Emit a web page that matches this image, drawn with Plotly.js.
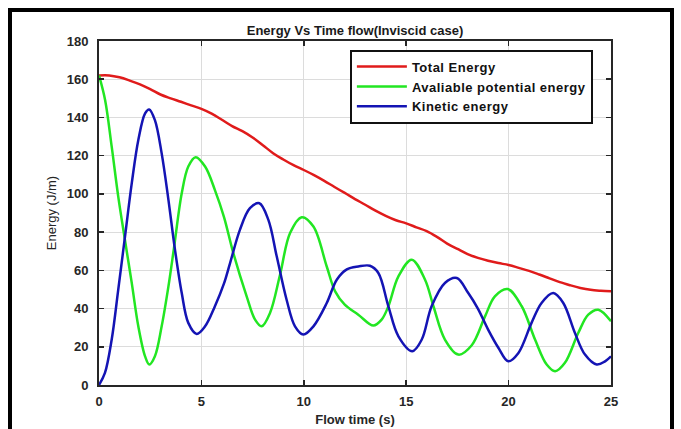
<!DOCTYPE html>
<html>
<head>
<meta charset="utf-8">
<script src="https://cdn.plot.ly/plotly-3.0.1.min.js"></script>
<style>
  html, body { margin: 0; padding: 0; background: #fff; }
  #wrap { position: relative; width: 681px; height: 429px; overflow: hidden; }
  #chart { position: absolute; left: 0; top: 0; width: 681px; height: 429px; }
  #frame { position: absolute; left: 8px; top: 8px; width: 658px; height: 460px;
           border: 4px solid #000; pointer-events: none; box-sizing: content-box; }
  .legendtext { letter-spacing: 0.5px; }
</style>
</head>
<body>
<div id="wrap">
  <div id="chart"></div>
  <div id="frame"></div>
</div>
<script>
// Total energy
const totalTime = [0,0.5,1,1.5,2,2.5,3,3.5,4,4.5,5,5.5,6,6.5,7,7.5,8,8.5,9,9.5,10,10.5,11,11.5,12,12.5,13,13.5,14,14.5,15,15.5,16,16.5,17,17.5,18,18.5,19,19.5,20,20.5,21,21.5,22,22.5,23,23.5,24,24.5,25];
const totalEnergy = [162,162,161,159.3,157.3,154.8,152,150,148.2,146.3,144.5,142,138.8,135.5,132.8,129.5,125.5,121.3,118,115,112.5,109.8,106.8,103.6,100.5,97.3,94.3,91.2,88.5,86.2,84.6,82.5,80.5,77.5,74,71.2,68.5,66.5,65,63.8,62.8,61.3,59.7,57.8,55.8,53.8,52.2,50.8,49.8,49.3,49];

// Available potential energy
const apeTime = [0,0.3,0.62,0.94,1.24,1.6,1.92,2.25,2.46,2.73,3.06,3.39,3.66,4.04,4.36,4.72,5.18,5.66,6.1,6.56,7.21,7.62,7.94,8.35,8.84,9.33,9.9,10.47,11.12,11.53,12.0,12.66,13.4,13.8,14.13,14.62,15.27,15.92,16.33,16.89,17.55,18.2,18.85,19.33,19.95,20.64,21.29,21.86,22.27,22.75,23.4,23.89,24.38,25];
const apeEnergy = [162,149,124.7,98.6,77.7,53.3,30.7,15,10.7,15,30.7,51.6,71.6,100.3,114.3,119.2,114.3,102,88,69,46.4,34.2,30.7,37.7,57.7,79.5,87.8,82.9,62,49,42,36.8,31.1,34.2,41.2,56.8,65.6,55.1,41.2,23.8,15.9,20.8,35.9,46.4,50.2,41.2,23.8,10.7,7.2,11.6,27.2,36.8,39.4,33.3];

// Kinetic energy
const keTime = [0,0.29,0.62,0.94,1.27,1.6,1.92,2.25,2.45,2.73,3.06,3.39,3.71,4.04,4.36,4.77,5.18,5.66,6.1,6.4,6.88,7.37,7.83,8.27,8.68,9.16,9.57,9.98,10.47,11.12,11.61,12.1,12.66,13.23,13.64,14.13,14.62,15.3,15.76,16.24,16.89,17.47,18.03,18.5,19.0,19.5,19.98,20.48,21.12,21.61,22.18,22.67,23.24,23.73,24.3,24.71,25];
const keEnergy = [0,6.3,23.8,49.9,77.7,105.6,128.2,142.1,144.2,138.6,121.2,96.9,70.8,48.1,32.5,26.7,30.7,41.2,53,63.8,81.2,92.5,95.1,86.4,67.2,44.6,30.7,26.4,30.7,42.9,55.1,60.5,62,62.4,58.6,41.2,25.5,17.7,23.8,41.2,53.4,56,48.1,40,29,19.5,12.4,16.8,32.5,42.9,48.1,42.9,27.2,15.9,10.7,12.4,15];

const seriesNames = ["Total Energy", "Avaliable potential energy", "Kinetic energy"];
const xTicks = [0,5,10,15,20,25];
const yTicks = [0,20,40,60,80,100,120,140,160,180];

const FONT = "'Liberation Sans', Arial, Helvetica, sans-serif";

const traces = [
  {x: totalTime, y: totalEnergy, name: seriesNames[0], mode: "lines",
   line: {color: "#e01b1b", width: 2.5, shape: "spline", smoothing: 1}},
  {x: apeTime, y: apeEnergy, name: seriesNames[1], mode: "lines",
   line: {color: "#22e622", width: 2.5, shape: "spline", smoothing: 1}},
  {x: keTime, y: keEnergy, name: seriesNames[2], mode: "lines",
   line: {color: "#1414b4", width: 2.5, shape: "spline", smoothing: 1}}
];

const axisCommon = {
  showline: true, linecolor: "#262626", linewidth: 2, mirror: "allticks",
  ticks: "inside", ticklen: 5, tickwidth: 1.5, tickcolor: "#262626",
  showgrid: true, gridcolor: "#dcdcdc", gridwidth: 1, zeroline: false,
  tickfont: {family: FONT, size: 13, color: "#262626", weight: "bold"}
};

const layout = {
  width: 681, height: 429,
  margin: {l: 99, r: 70, t: 41, b: 44, pad: 0},
  paper_bgcolor: "#ffffff", plot_bgcolor: "#ffffff",
  showlegend: true,
  title: {text: "Energy Vs Time flow(Inviscid case)", x: 0.5213, xanchor: "center", y: 0.93, yanchor: "middle",
          font: {family: FONT, size: 13, color: "#1a1a1a", weight: "bold"}},
  xaxis: Object.assign({}, axisCommon, {
    range: [0, 25], tickvals: xTicks, ticktext: xTicks.map(String),
    ticklabelstandoff: 3,
    title: {text: "Flow time (s)", standoff: 7,
            font: {family: FONT, size: 13, color: "#262626", weight: "bold"}}
  }),
  yaxis: Object.assign({}, axisCommon, {
    range: [0, 180], tickvals: yTicks, ticktext: yTicks.map(String),
    ticklabelstandoff: 6,
    title: {text: "Energy (J/m)", standoff: 7,
            font: {family: FONT, size: 13, color: "#262626"}}
  }),
  legend: {
    x: 0.49, y: 0.975, xanchor: "left", yanchor: "top",
    bgcolor: "#ffffff", bordercolor: "#111111", borderwidth: 2,
    font: {family: FONT, size: 13, color: "#111111", weight: "bold"},
    tracegroupgap: 0, itemwidth: 50
  }
};

Plotly.newPlot("chart", traces, layout, {displayModeBar: false, staticPlot: true}).then(function (gd) {
  // lengthen legend line samples to fill the item symbol width (style only)
  gd.querySelectorAll(".legend .legendlines path").forEach(function (p) {
    p.setAttribute("d", "M5,0h50");
  });
});
</script>
</body>
</html>
